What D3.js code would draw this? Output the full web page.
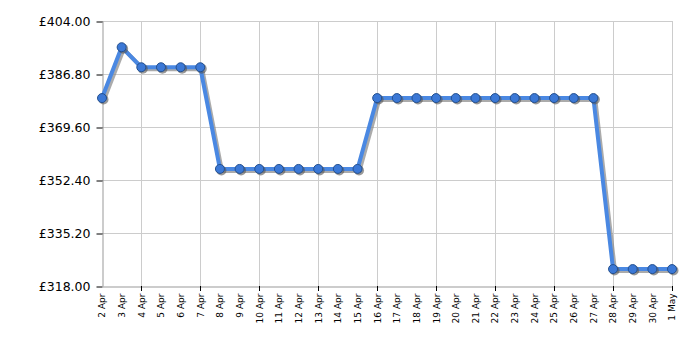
<!DOCTYPE html>
<html>
<head>
<meta charset="utf-8">
<script src="https://cdn.jsdelivr.net/npm/d3@7"></script>
<style>
  body { margin: 0; background: #fff; }
  svg { display: block; font-family: Verdana, "DejaVu Sans", sans-serif; }
</style>
</head>
<body>
<div id="container"></div>
<script>
const dates = ["2 Apr","3 Apr","4 Apr","5 Apr","6 Apr","7 Apr","8 Apr","9 Apr","10 Apr","11 Apr",
  "12 Apr","13 Apr","14 Apr","15 Apr","16 Apr","17 Apr","18 Apr","19 Apr","20 Apr","21 Apr",
  "22 Apr","23 Apr","24 Apr","25 Apr","26 Apr","27 Apr","28 Apr","29 Apr","30 Apr","1 May"]
const prices = [378.99, 395.49, 388.99, 388.99, 388.99, 388.99, 355.99, 355.99, 355.99, 355.99,
  355.99, 355.99, 355.99, 355.99, 378.99, 378.99, 378.99, 378.99, 378.99, 378.99,
  378.99, 378.99, 378.99, 378.99, 378.99, 378.99, 323.49, 323.49, 323.49, 323.49]
const yTicks = [318, 335.2, 352.4, 369.6, 386.8, 404]
const majorDates = ["4 Apr","7 Apr","10 Apr","13 Apr","16 Apr","19 Apr","22 Apr","25 Apr","28 Apr","1 May"]

const width = 700
const height = 350
const margin = {top: 21, bottom: 64, left: 102, right: 28}

const x = d3.scalePoint()
  .domain(dates)
  .range([margin.left, width - margin.right])

const y = d3.scaleLinear()
  .domain([318, 404])
  .range([height - margin.bottom, margin.top])

const svg = d3.create("svg")
  .attr("width", width)
  .attr("height", height)

// grid
svg.append("g")
  .selectAll("line")
  .data(yTicks.slice(1))
  .join("line")
  .attr("x1", margin.left).attr("x2", width - margin.right)
  .attr("y1", d => Math.round(y(d)) + 0.5).attr("y2", d => Math.round(y(d)) + 0.5)
  .attr("stroke", "#cccccc")

svg.append("g")
  .selectAll("line")
  .data(majorDates)
  .join("line")
  .attr("x1", d => Math.round(x(d)) + 0.5).attr("x2", d => Math.round(x(d)) + 0.5)
  .attr("y1", margin.top).attr("y2", height - margin.bottom)
  .attr("stroke", "#cccccc")

// y axis
const yAxis = svg.append("g")
  .attr("transform", `translate(${margin.left + 0.5}, 0)`)
  .call(d3.axisLeft(y).tickValues(yTicks).tickFormat(d => "£" + d3.format(".2f")(d)).tickSize(6).tickPadding(6).tickSizeOuter(0))
yAxis.select(".domain").attr("stroke", "#999999")
yAxis.selectAll(".tick line").attr("stroke", "#000")
yAxis.selectAll(".tick line").attr("transform", d => `translate(0, ${Math.round(y(d)) + 0.5 - y(d)})`)
yAxis.selectAll("text").attr("font-size", 12.5).attr("fill", "#000").attr("font-family", "Verdana, 'DejaVu Sans', sans-serif")

// x axis
const xAxis = svg.append("g")
  .attr("transform", `translate(0, ${height - margin.bottom + 0.5})`)
  .call(d3.axisBottom(x).tickSize(0).tickSizeOuter(0))
xAxis.select(".domain").attr("stroke", "#999999")
xAxis.selectAll(".tick line").remove()
xAxis.selectAll(".tick text")
  .attr("transform", "rotate(-90)")
  .attr("text-anchor", "end")
  .attr("x", -7)
  .attr("y", 0)
  .attr("dy", "0.32em")
  .attr("font-size", 9)
  .attr("fill", "#000")
  .attr("font-family", "Verdana, 'DejaVu Sans', sans-serif")

svg.append("g")
  .selectAll("line")
  .data(majorDates)
  .join("line")
  .attr("x1", d => Math.round(x(d)) + 0.5).attr("x2", d => Math.round(x(d)) + 0.5)
  .attr("y1", height - margin.bottom).attr("y2", height - margin.bottom + 5)
  .attr("stroke", "#000")

// series
const line = d3.line()
  .x((d, i) => x(dates[i]))
  .y(d => y(d))

svg.append("path")
  .datum(prices)
  .attr("d", line)
  .attr("transform", "translate(2, 2)")
  .attr("fill", "none")
  .attr("stroke", "#888888")
  .attr("stroke-opacity", 0.7)
  .attr("stroke-width", 4)

svg.append("path")
  .datum(prices)
  .attr("d", line)
  .attr("fill", "none")
  .attr("stroke", "#4a88e2")
  .attr("stroke-width", 4)

svg.append("g")
  .selectAll("circle")
  .data(prices)
  .join("circle")
  .attr("cx", (d, i) => x(dates[i]) + 1.5)
  .attr("cy", d => y(d) + 1.5)
  .attr("r", 5)
  .attr("fill", "#555")
  .attr("opacity", 0.6)

svg.append("g")
  .selectAll("circle")
  .data(prices)
  .join("circle")
  .attr("cx", (d, i) => x(dates[i]))
  .attr("cy", d => y(d))
  .attr("r", 4.5)
  .attr("fill", "#3b78d6")
  .attr("stroke", "#24508f")
  .attr("stroke-width", 1)

document.querySelector("#container").appendChild(svg.node())
</script>
</body>
</html>
